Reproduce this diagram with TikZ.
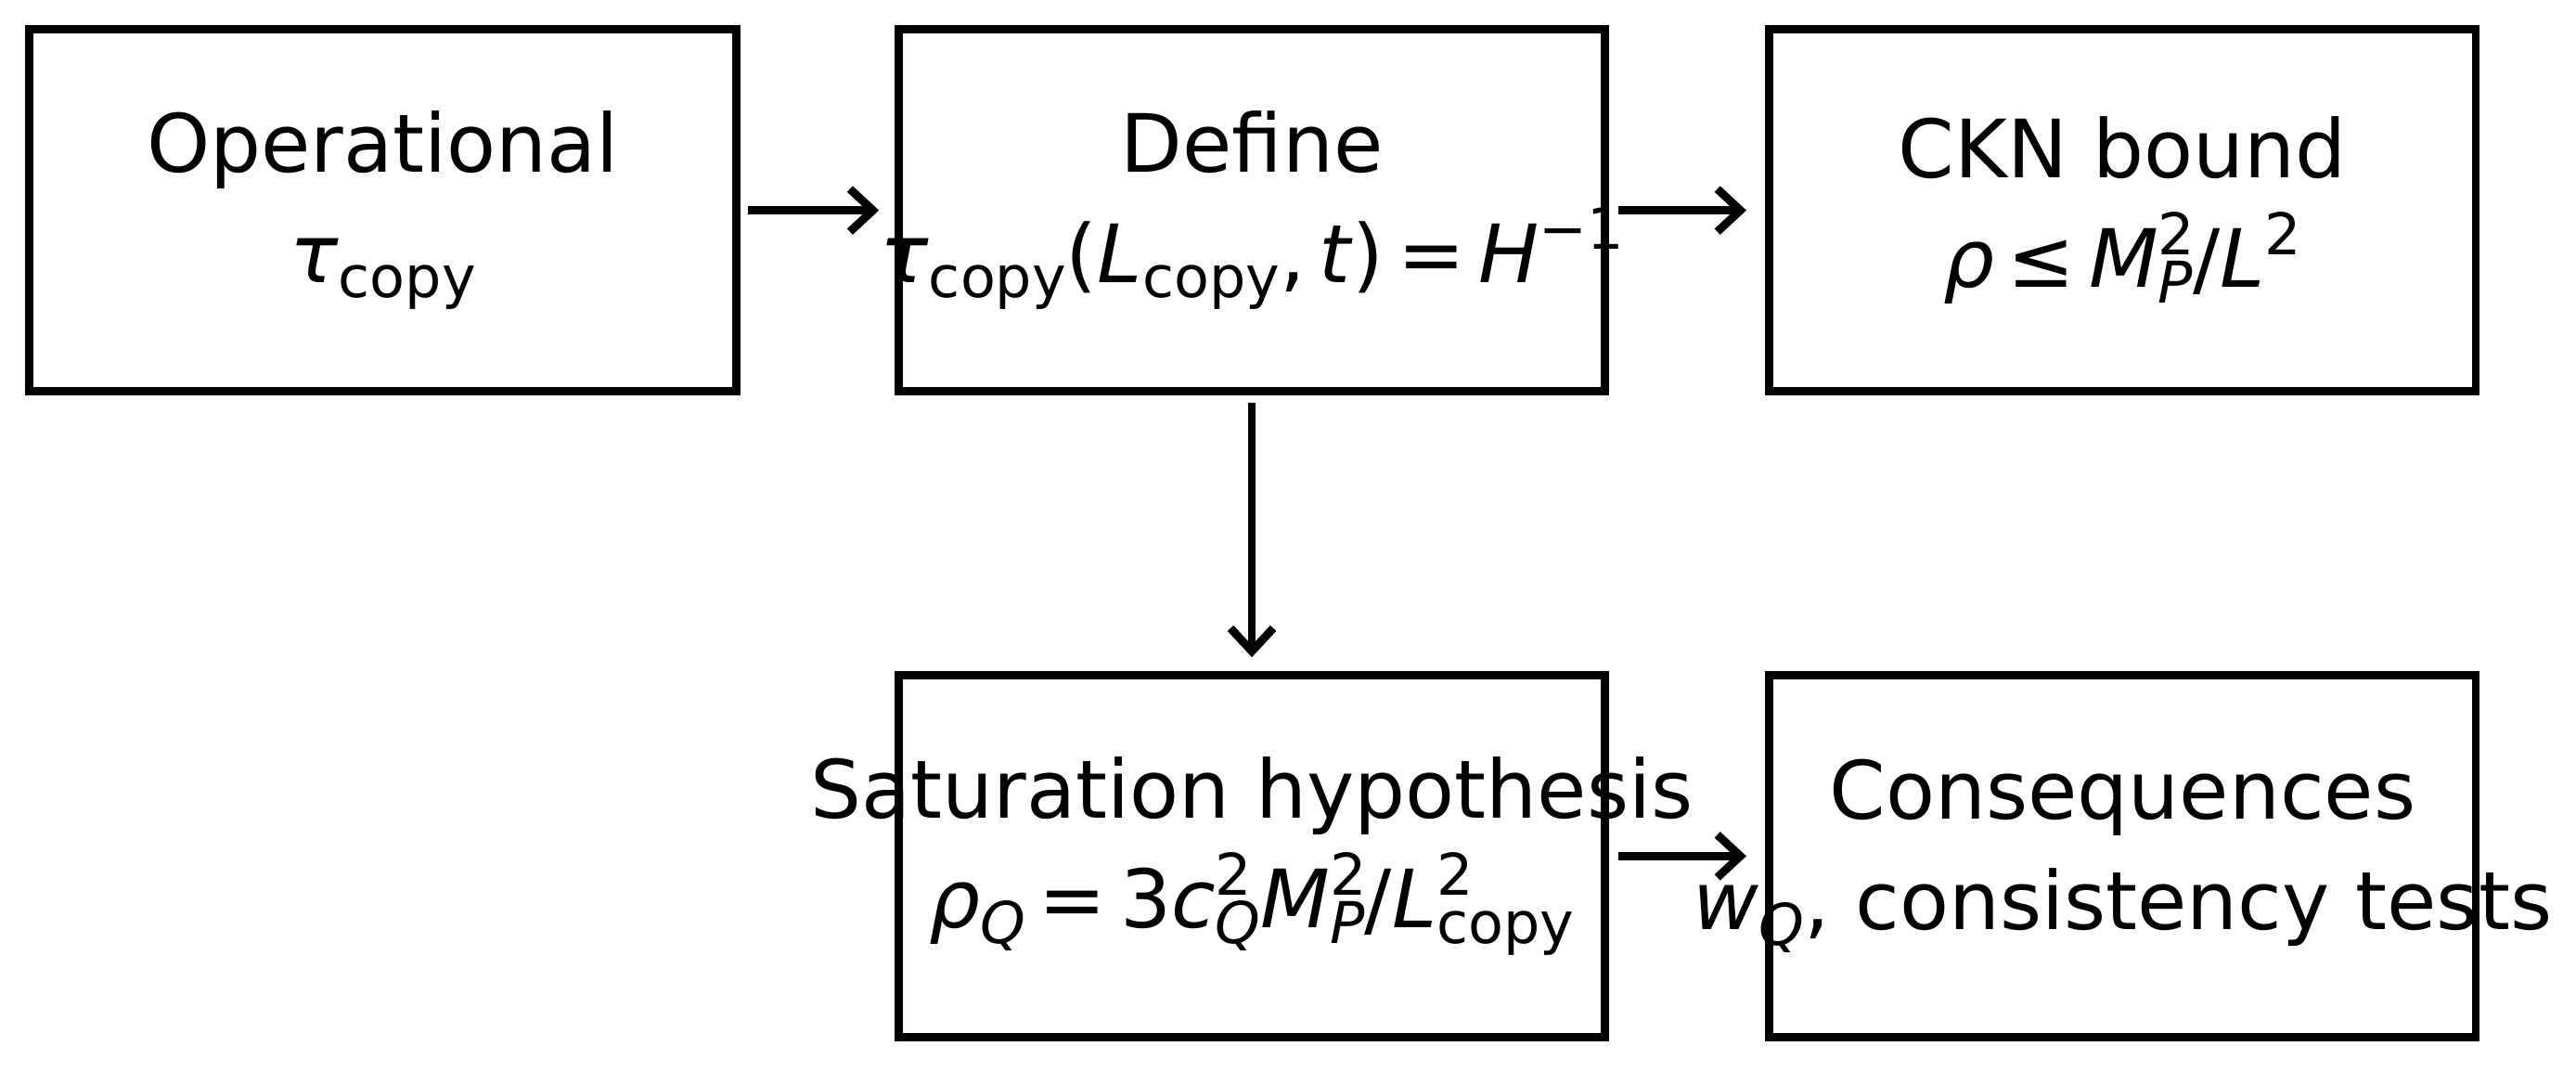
\documentclass[tikz,border=0pt]{standalone}
\usepackage{fontspec}
\setmainfont{DejaVu Sans}
\usetikzlibrary{arrows.meta}
\newcommand{\lo}[1]{\raisebox{-0.35ex}{\fontsize{35}{37}\selectfont #1}}
\newcommand{\hi}[1]{\raisebox{0.75ex}{\fontsize{35}{37}\selectfont #1}}
\newcommand{\hilo}[2]{\rlap{\hi{#1}}\lo{#2}}
\newcommand{\mi}[1]{\textit{#1}}
\begin{document}
\begin{tikzpicture}[x=1pt,y=-1pt,
  stage/.style={draw,line width=5pt,minimum width=430pt,minimum height=220pt},
  lbl/.style={align=center,font=\fontsize{49}{67}\selectfont},
  flow/.style={-{Straight Barb[length=14pt,width=26pt]},line width=5pt}]
  \useasboundingbox (0,0) rectangle (1568,652);

  \node[stage] (op) at (233,128) {};
  \node[stage] (def) at (762,128) {};
  \node[stage] (ckn) at (1292,128) {};
  \node[stage] (sat) at (762,521) {};
  \node[stage] (con) at (1292,521) {};

  \node[lbl] at (op) {Operational\\ \mi{τ}\lo{copy}};
  \node[lbl] at (def) {Define\\ \mi{τ}\lo{copy}(\mi{L}\lo{copy},\,\mi{t})\,=\,\mi{H}\hi{−1}};
  \node[lbl] at (ckn) {CKN bound\\ \mi{ρ}\,≤\,\mi{M}\hilo{2}{\mi{P}}/\mi{L}\hi{2}};
  \node[lbl] at (sat) {Saturation hypothesis\\ \mi{ρ}\lo{\mi{Q}}\,=\,3\mi{c}\hilo{2}{\mi{Q}}\mi{M}\hilo{2}{\mi{P}}/\mi{L}\hilo{2}{copy}};
  \node[lbl] at (con) {Consequences\\ \mi{w}\lo{\mi{Q}}, consistency tests};

  \coordinate (a1) at (455,128);
  \coordinate (a2) at (535,128);
  \coordinate (b1) at (985,128);
  \coordinate (b2) at (1063,128);
  \coordinate (c1) at (762,245);
  \coordinate (c2) at (762,400);
  \coordinate (d1) at (985,521);
  \coordinate (d2) at (1063,521);
  \draw[flow] (a1) -- (a2);
  \draw[flow] (b1) -- (b2);
  \draw[flow] (c1) -- (c2);
  \draw[flow] (d1) -- (d2);
\end{tikzpicture}
\end{document}
